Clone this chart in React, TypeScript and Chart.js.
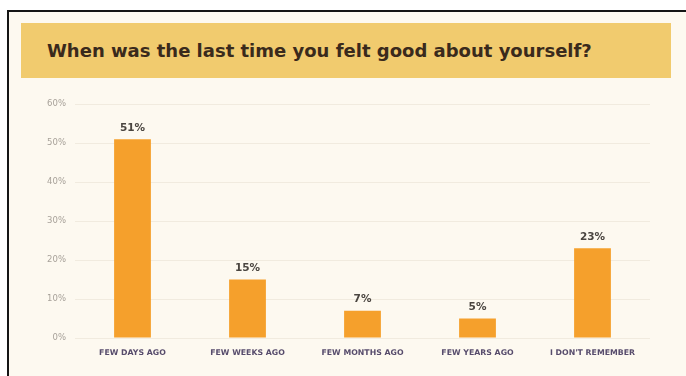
import React, { useEffect, useRef } from "react";
import { Chart, registerables } from "chart.js";

Chart.register(...registerables);

const title = "When was the last time you felt good about yourself?";
const categories = ["FEW DAYS AGO", "FEW WEEKS AGO", "FEW MONTHS AGO", "FEW YEARS AGO", "I DON'T REMEMBER"];
const values = [51, 15, 7, 5, 23];
const yMax = 60;
const yStep = 10;

const valueLabels = {
  id: "valueLabels",
  afterDatasetsDraw(chart: any) {
    const ctx = chart.ctx;
    const meta = chart.getDatasetMeta(0);
    ctx.save();
    ctx.font = "bold 10.5px 'DejaVu Sans', sans-serif";
    ctx.fillStyle = "#4a4540";
    ctx.textAlign = "center";
    ctx.textBaseline = "bottom";
    meta.data.forEach((el: any, i: number) => {
      ctx.fillText(values[i] + "%", el.x, el.y - 6);
    });
    ctx.restore();
  },
};

export default function App() {
  const ref = useRef<HTMLCanvasElement | null>(null);
  useEffect(() => {
    if (!ref.current) return;
    const chart = new Chart(ref.current, {
      type: "bar",
      data: {
        labels: categories,
        datasets: [
          {
            data: values,
            backgroundColor: "#F5A02C",
            barPercentage: 0.32,
            categoryPercentage: 1,
          },
        ],
      },
      options: {
        animation: false,
        responsive: false,
        maintainAspectRatio: false,
        layout: { padding: { left: 0, right: 20, top: 14, bottom: 0 } },
        plugins: { legend: { display: false }, tooltip: { enabled: false } },
        scales: {
          x: {
            grid: { display: false, drawTicks: false },
            border: { display: false },
            ticks: {
              color: "#574c6c",
              font: { size: 7.8, weight: "bold", family: "'DejaVu Sans', sans-serif" },
              padding: 10,
              maxRotation: 0,
              autoSkip: false,
            },
            afterFit: (s: any) => {
              s.height = 38;
            },
          },
          y: {
            min: 0,
            max: yMax,
            grid: { color: "rgba(120,100,60,0.09)", drawTicks: false },
            border: { display: false },
            ticks: {
              stepSize: yStep,
              color: "#a8a29a",
              font: { size: 8.5, family: "'DejaVu Sans', sans-serif" },
              padding: 9,
              callback: (v: any) => v + "%",
            },
            afterFit: (s: any) => {
              s.width = 55;
            },
          },
        },
      },
      plugins: [valueLabels],
    });
    return () => chart.destroy();
  }, []);

  return (
    <div>
      <div
        style={{
          position: "fixed",
          left: 7,
          top: 10,
          width: 720,
          height: 420,
          border: "2px solid #151515",
          background: "#FDF9F0",
          boxSizing: "border-box",
        }}
      />
      <div
        style={{
          position: "fixed",
          left: 21,
          top: 23,
          width: 650,
          height: 55,
          background: "#F1CB6E",
          display: "flex",
          alignItems: "center",
          paddingLeft: 26,
          boxSizing: "border-box",
          fontFamily: "'DejaVu Sans', sans-serif",
          fontWeight: "bold",
          fontSize: 18,
          color: "#3a2a1c",
        }}
      >
        {title}
      </div>
      <canvas
        ref={ref}
        width={650}
        height={286}
        style={{ position: "fixed", left: 20, top: 90, width: 650, height: 286 }}
      />
    </div>
  );
}
